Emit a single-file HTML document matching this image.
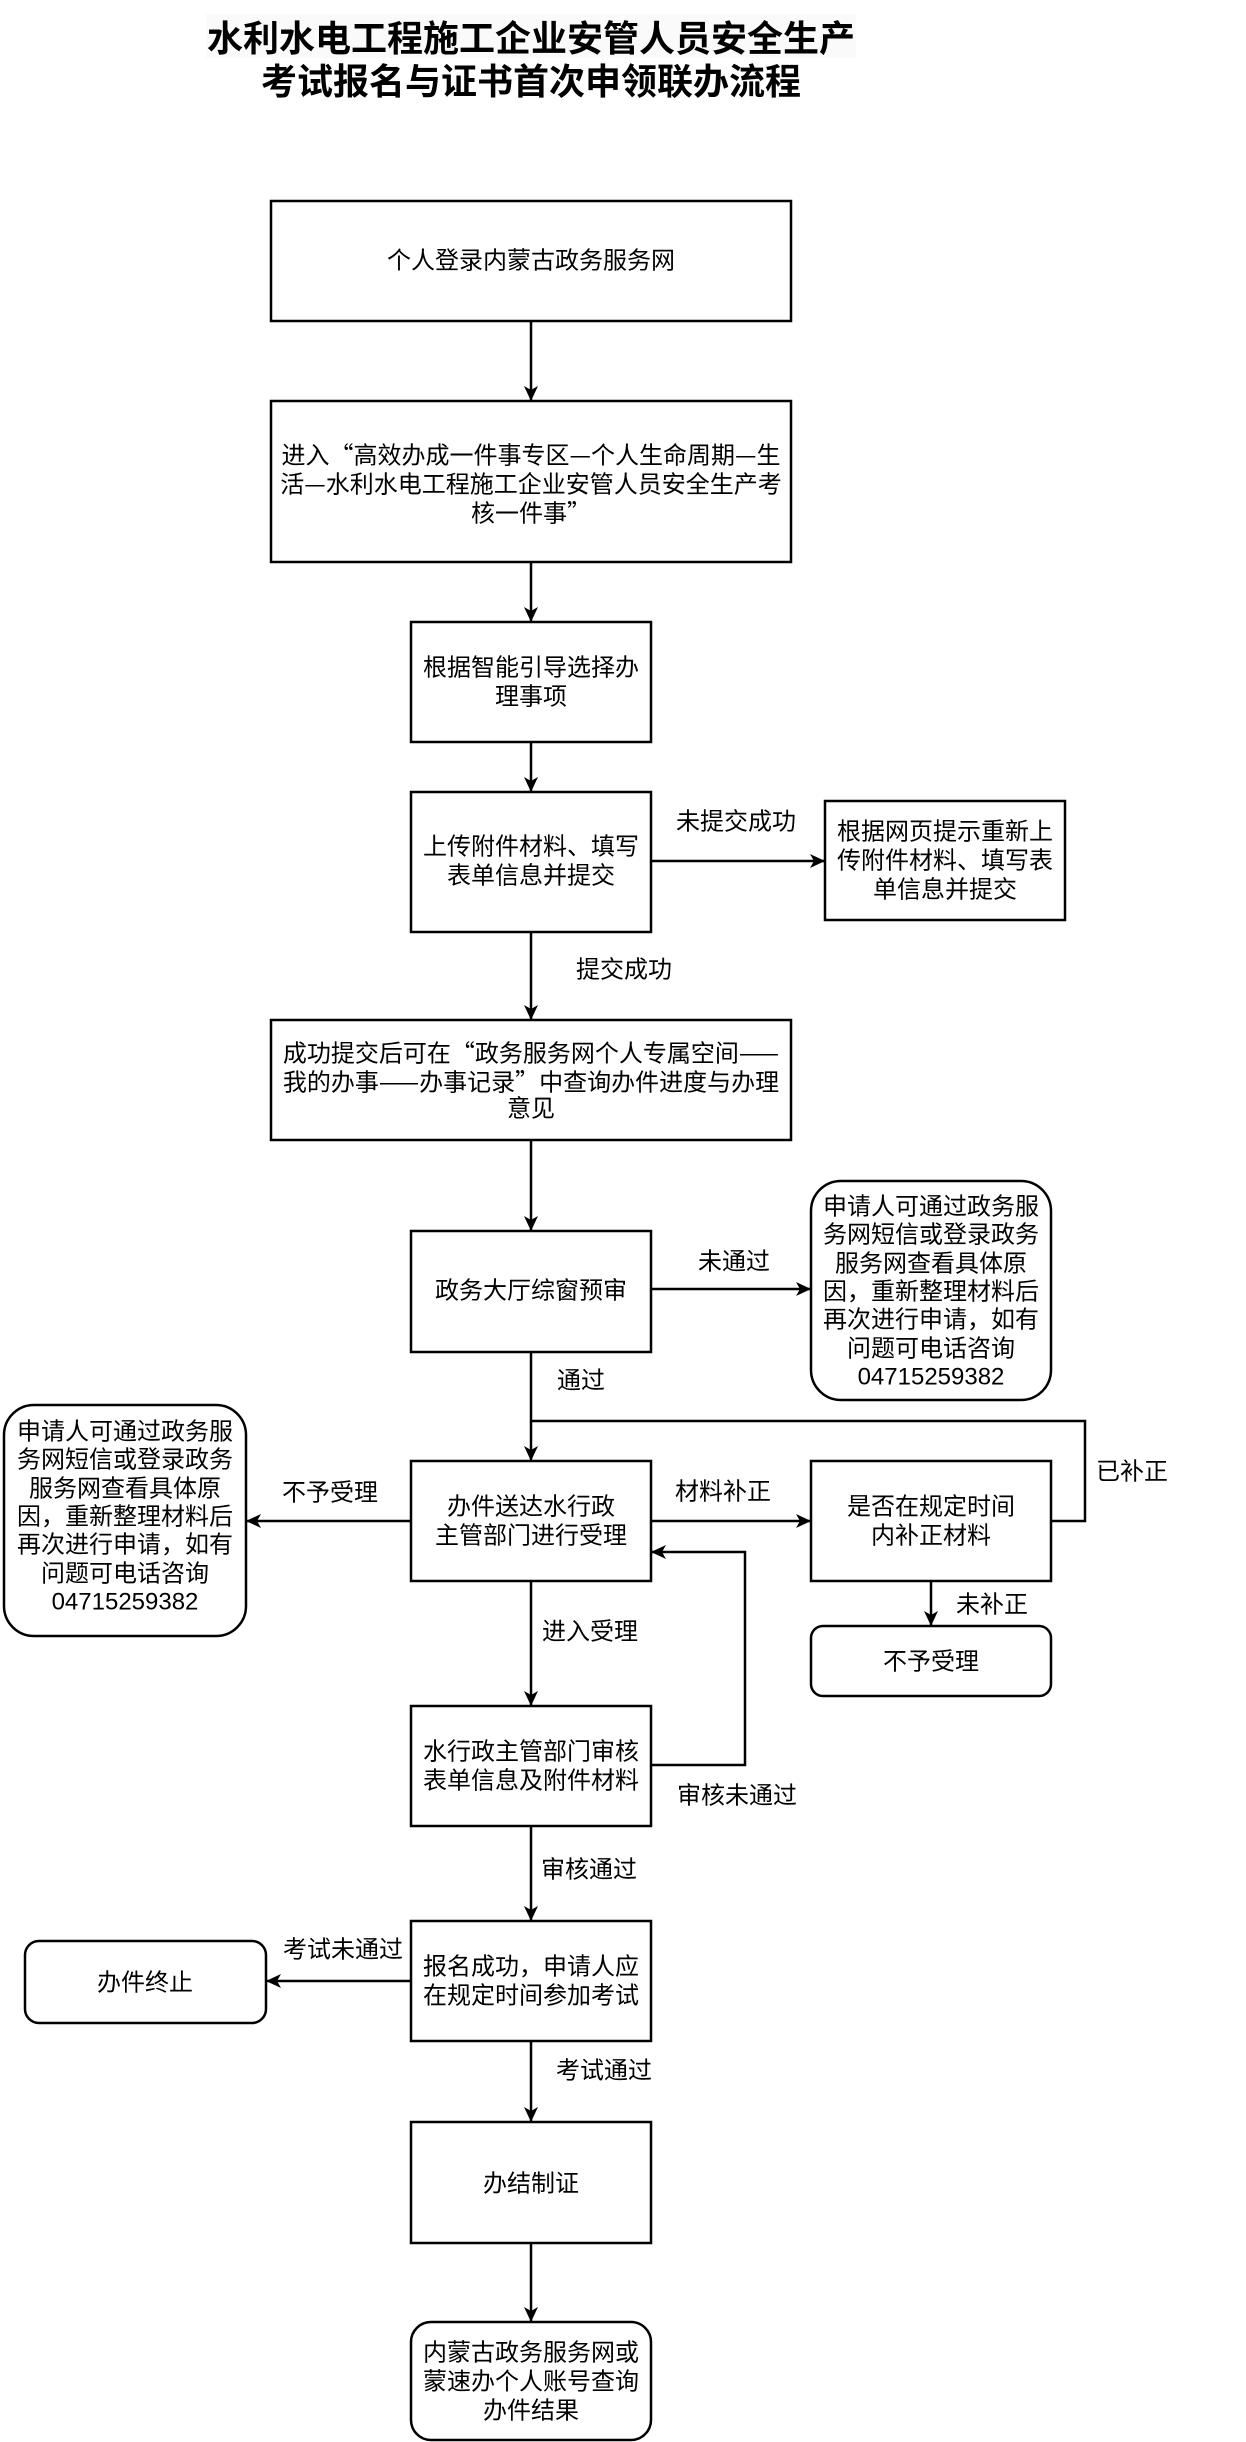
<!DOCTYPE html>
<html><head><meta charset="utf-8"><style>
html,body{margin:0;padding:0;background:#fff;}
svg{display:block;}
text{font-family:"Liberation Sans","Noto Sans CJK SC",sans-serif;font-size:24px;fill:#000;}
.c{font-family:"Noto Sans CJK SC",sans-serif;}
.t{font-family:"Noto Sans CJK SC",sans-serif;font-weight:bold;font-size:36px;}
</style></head><body>
<svg width="1246" height="2442" viewBox="0 0 1246 2442" xmlns="http://www.w3.org/2000/svg">
<defs>
<marker id="a" markerWidth="16" markerHeight="16" refX="14" refY="8" orient="auto" markerUnits="userSpaceOnUse">
<path d="M0,1 L15,8 L0,15 L4,8 Z" fill="#000"/>
</marker>
</defs>
<rect x="206" y="14" width="650" height="44" fill="#fafafa"/>
<text class="t" x="531" y="36" text-anchor="middle" dominant-baseline="central">水利水电工程施工企业安管人员安全生产</text>
<text class="t" x="531" y="79" text-anchor="middle" dominant-baseline="central">考试报名与证书首次申领联办流程</text>

<g fill="#fff" stroke="#000" stroke-width="2.5">
<rect x="271" y="201" width="520" height="120"/>
<rect x="271" y="401" width="520" height="161"/>
<rect x="411" y="622" width="240" height="120"/>
<rect x="411" y="792" width="240" height="140"/>
<rect x="825" y="801" width="240" height="119"/>
<rect x="271" y="1020" width="520" height="120"/>
<rect x="411" y="1231" width="240" height="121"/>
<rect x="811" y="1181" width="240" height="219" rx="30"/>
<rect x="411" y="1461" width="240" height="120"/>
<rect x="4" y="1405" width="242" height="231" rx="30"/>
<rect x="811" y="1461" width="240" height="120"/>
<rect x="811" y="1626" width="240" height="70" rx="12"/>
<rect x="411" y="1706" width="240" height="120"/>
<rect x="411" y="1921" width="240" height="120"/>
<rect x="25" y="1941" width="241" height="82" rx="14"/>
<rect x="411" y="2122" width="240" height="121"/>
<rect x="411" y="2322" width="240" height="118" rx="20"/>
</g>

<g stroke="#000" stroke-width="2.5" fill="none">
<polyline points="1051,1521 1085,1521 1085,1421 531,1421"/>
</g>
<g stroke="#000" stroke-width="2.5" fill="none" marker-end="url(#a)">
<line x1="531" y1="321" x2="531" y2="400"/>
<line x1="531" y1="562" x2="531" y2="621"/>
<line x1="531" y1="742" x2="531" y2="791"/>
<line x1="531" y1="932" x2="531" y2="1019"/>
<line x1="651" y1="861" x2="824" y2="861"/>
<line x1="531" y1="1140" x2="531" y2="1230"/>
<line x1="651" y1="1289" x2="810" y2="1289"/>
<line x1="531" y1="1352" x2="531" y2="1460"/>
<line x1="651" y1="1521" x2="810" y2="1521"/>
<line x1="411" y1="1521" x2="247" y2="1521"/>
<line x1="931" y1="1581" x2="931" y2="1625"/>
<line x1="531" y1="1581" x2="531" y2="1705"/>
<polyline points="651,1765 745,1765 745,1552 652,1552"/>
<line x1="531" y1="1826" x2="531" y2="1920"/>
<line x1="411" y1="1981" x2="267" y2="1981"/>
<line x1="531" y1="2041" x2="531" y2="2121"/>
<line x1="531" y1="2243" x2="531" y2="2321"/>
</g>

<g text-anchor="middle" dominant-baseline="central">
<text x="531" y="261">个人登录内蒙古政务服务网</text>
<text class="c" x="531" y="453">进入“高效办成一件事专区—个人生命周期—生</text>
<text class="c" x="531" y="482">活—水利水电工程施工企业安管人员安全生产考</text>
<text class="c" x="531" y="511">核一件事”</text>
<text x="531" y="668">根据智能引导选择办</text>
<text x="531" y="697">理事项</text>
<text x="531" y="847">上传附件材料、填写</text>
<text x="531" y="876">表单信息并提交</text>
<text x="736" y="822">未提交成功</text>
<text x="945" y="832">根据网页提示重新上</text>
<text x="945" y="861">传附件材料、填写表</text>
<text x="945" y="890">单信息并提交</text>
<text x="624" y="970">提交成功</text>
<text class="c" x="531" y="1051">成功提交后可在“政务服务网个人专属空间——</text>
<text class="c" x="531" y="1080">我的办事——办事记录”中查询办件进度与办理</text>
<text x="531" y="1109">意见</text>
<text x="531" y="1291">政务大厅综窗预审</text>
<text x="734" y="1262">未通过</text>
<text x="931" y="1207">申请人可通过政务服</text>
<text x="931" y="1235">务网短信或登录政务</text>
<text x="931" y="1264">服务网查看具体原</text>
<text x="931" y="1292">因，重新整理材料后</text>
<text x="931" y="1320">再次进行申请，如有</text>
<text x="931" y="1349">问题可电话咨询</text>
<text x="931" y="1377">04715259382</text>
<text x="581" y="1381">通过</text>
<text x="125" y="1432">申请人可通过政务服</text>
<text x="125" y="1460">务网短信或登录政务</text>
<text x="125" y="1489">服务网查看具体原</text>
<text x="125" y="1517">因，重新整理材料后</text>
<text x="125" y="1545">再次进行申请，如有</text>
<text x="125" y="1574">问题可电话咨询</text>
<text x="125" y="1602">04715259382</text>
<text x="330" y="1493">不予受理</text>
<text x="531" y="1507">办件送达水行政</text>
<text x="531" y="1536">主管部门进行受理</text>
<text x="723" y="1492">材料补正</text>
<text x="931" y="1507">是否在规定时间</text>
<text x="931" y="1536">内补正材料</text>
<text x="1132" y="1472">已补正</text>
<text x="992" y="1605">未补正</text>
<text x="931" y="1662">不予受理</text>
<text x="590" y="1632">进入受理</text>
<text x="531" y="1752">水行政主管部门审核</text>
<text x="531" y="1781">表单信息及附件材料</text>
<text x="737" y="1796">审核未通过</text>
<text x="589" y="1870">审核通过</text>
<text x="531" y="1967">报名成功，申请人应</text>
<text x="531" y="1996">在规定时间参加考试</text>
<text x="343" y="1950">考试未通过</text>
<text x="145" y="1983">办件终止</text>
<text x="604" y="2071">考试通过</text>
<text x="531" y="2184">办结制证</text>
<text x="531" y="2353">内蒙古政务服务网或</text>
<text x="531" y="2382">蒙速办个人账号查询</text>
<text x="531" y="2411">办件结果</text>
</g>
</svg>
</body></html>
